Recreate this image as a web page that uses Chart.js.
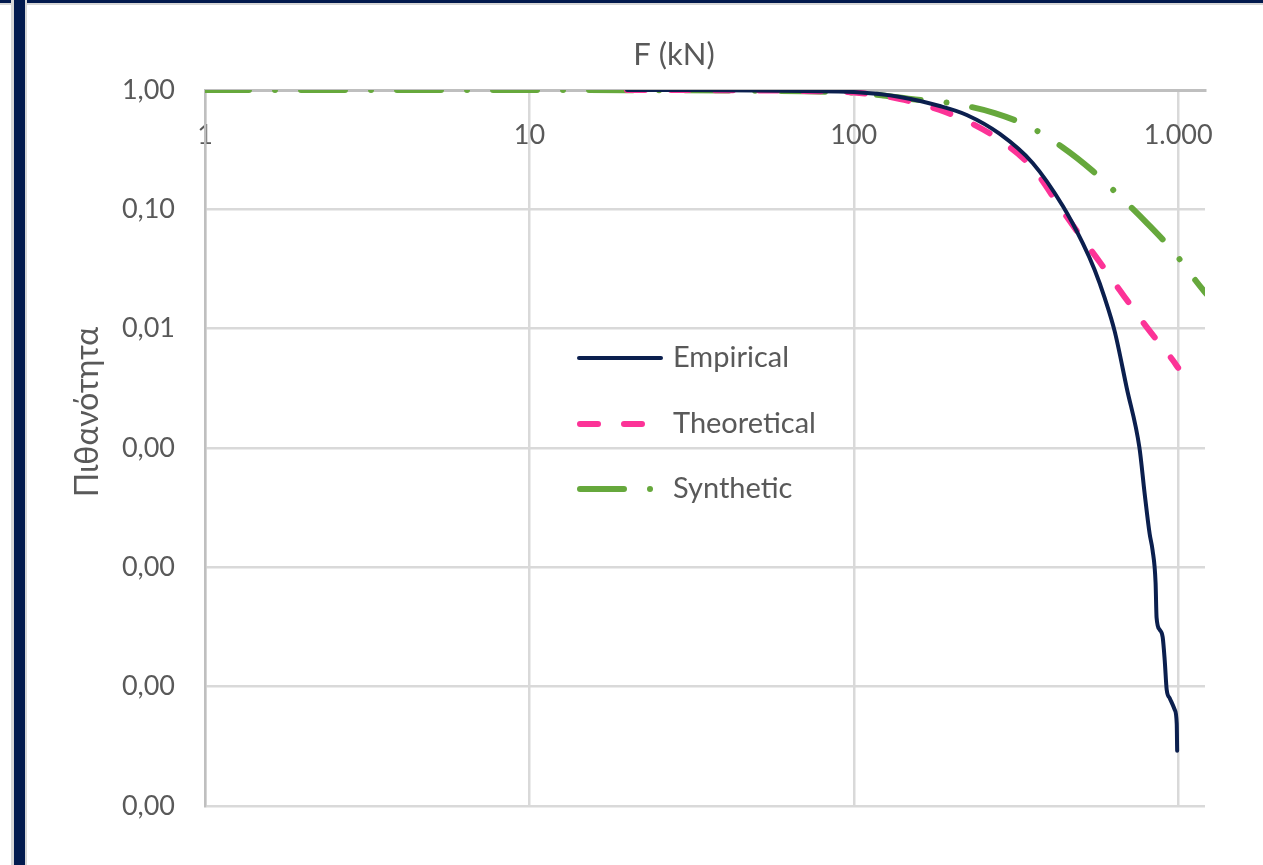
<!DOCTYPE html>
<html>
<head>
<meta charset="utf-8">
<script src="https://cdn.jsdelivr.net/npm/chart.js@4.4.0/dist/chart.umd.min.js"></script>
<style>
    html, body { margin: 0; padding: 0; background: #fff; }
    body { width: 1263px; height: 865px; position: relative; overflow: hidden; }
    .edge { position: absolute; }
    #topBar { left: 0; top: 0; width: 1263px; height: 3px; background: #021a4e; }
    #topLine { left: 0; top: 3px; width: 1263px; height: 2px; background: #d6d6d6; }
    #sideLine { left: 11px; top: 0; width: 16px; height: 865px; background: #d6d6d6; }
    #sideBar { left: 14px; top: 0; width: 11px; height: 865px; background: #021a4e; }
    #wrap { position: absolute; left: 27px; top: 6px; width: 1236px; height: 859px; }
</style>
</head>
<body>
<div class="edge" id="topBar"></div>
<div class="edge" id="topLine"></div>
<div class="edge" id="sideLine"></div>
<div class="edge" id="sideBar"></div>
<div id="wrap"><canvas id="chart" width="1236" height="859"></canvas></div>
<script>
//force in kN and exceedance probability for each curve
const empiricalF = [20, 30, 50, 70, 100, 139, 184, 223, 282, 356, 441, 508, 553, 594, 638, 694, 760, 788, 817, 834, 852, 858, 877, 896, 909, 922, 942, 976, 990, 993];
const empiricalP = [1, 0.998, 0.99, 0.98, 0.96, 0.874, 0.734, 0.617, 0.428, 0.2445, 0.1066, 0.052, 0.031, 0.018, 0.0094, 0.0032, 0.001, 0.00042, 0.00019, 0.000139, 0.000074, 0.000038, 0.00003, 0.000026, 0.0000167, 0.0000094, 0.000008, 0.0000064, 0.0000049, 0.0000029];

const theoreticalF = [20, 30, 50, 70, 100, 139, 184, 223, 282, 356, 437, 497, 573, 660, 800, 962, 1000];
const theoreticalP = [1, 0.999, 0.993, 0.98, 0.955, 0.84, 0.68, 0.55, 0.381, 0.222, 0.1, 0.061, 0.0362, 0.0211, 0.0103, 0.00546, 0.0047];

const syntheticF = [1, 10, 20, 40, 70, 100, 123, 150, 198, 272, 349, 441, 545, 660, 800, 962, 1208, 1260];
const syntheticP = [1, 0.999, 0.997, 0.99, 0.975, 0.95, 0.9, 0.84, 0.778, 0.64, 0.49, 0.33, 0.21, 0.129, 0.077, 0.045, 0.0203, 0.018];

const xTicks = [1, 10, 100, 1000];
const yTicks = [1, 0.1, 0.01, 0.001, 0.0001, 0.00001, 0.000001];

const FONT = 'Lato, "Noto Sans", sans-serif';
const TEXT = '#595959';

function points(xs, ys) {
    return xs.map((x, i) => ({ x: x, y: ys[i] }));
}

function keepTicks(list) {
    return (scale) => {
        scale.ticks = scale.ticks.filter(t => list.some(v => Math.abs(Math.log10(t.value) - Math.log10(v)) < 1e-6));
    };
}

//legend sits inside the plot, so draw it by hand
const innerLegend = {
    id: 'innerLegend',
    afterDatasetsDraw(chart) {
        const ctx = chart.ctx;
        const a = chart.chartArea;
        const x0 = a.left + 372, x1 = a.left + 458, tx = a.left + 468;
        const rows = [268, 334, 399];
        chart.data.datasets.forEach((ds, i) => {
            const y = a.top + rows[i];
            ctx.save();
            ctx.strokeStyle = ds.borderColor;
            ctx.lineWidth = ds.borderWidth;
            ctx.lineCap = 'round';
            ctx.setLineDash(ds.borderDash || []);
            ctx.beginPath();
            ctx.moveTo(x0 + ds.borderWidth / 2, y);
            ctx.lineTo(x1 - ds.borderWidth / 2, y);
            ctx.stroke();
            ctx.restore();
            ctx.save();
            ctx.fillStyle = TEXT;
            ctx.font = '29px ' + FONT;
            ctx.textBaseline = 'middle';
            ctx.fillText(ds.label, tx, y);
            ctx.restore();
        });
    }
};

//axis titles: F on top, probability rotated on the left
const axisTitles = {
    id: 'axisTitles',
    afterDraw(chart) {
        const ctx = chart.ctx;
        const a = chart.chartArea;
        ctx.save();
        ctx.fillStyle = TEXT;
        ctx.font = '31px ' + FONT;
        ctx.textAlign = 'center';
        ctx.textBaseline = 'middle';
        ctx.fillText('F (kN)', a.left + 469, a.top - 35);
        ctx.font = '32px ' + FONT;
        ctx.translate(a.left - 117, a.top + 322);
        ctx.rotate(-Math.PI / 2);
        ctx.fillText('Πιθανότητα', 0, 0);
        ctx.restore();
    }
};

new Chart(document.getElementById('chart'), {
    type: 'line',
    data: {
        datasets: [{
            label: 'Empirical',
            data: points(empiricalF, empiricalP),
            borderColor: '#0b1f4e',
            borderWidth: 4
        }, {
            label: 'Theoretical',
            data: points(theoreticalF, theoreticalP),
            borderColor: '#fc3397',
            borderWidth: 6,
            borderDash: [18, 26]
        }, {
            label: 'Synthetic',
            data: points(syntheticF, syntheticP),
            borderColor: '#66a83c',
            borderWidth: 6,
            borderDash: [44, 26, 0.01, 26]
        }]
    },
    options: {
        responsive: false,
        animation: false,
        clip: 0,
        layout: { padding: { left: 28, right: 58, top: 84, bottom: 59 } },
        elements: {
            point: { radius: 0 },
            line: { cubicInterpolationMode: 'monotone', borderCapStyle: 'round', borderJoinStyle: 'round', fill: false }
        },
        plugins: { legend: { display: false }, tooltip: { enabled: false } },
        scales: {
            x: {
                type: 'logarithmic',
                position: { y: 1 },
                min: 1,
                max: 1210,
                afterBuildTicks: keepTicks(xTicks),
                grid: { color: '#d9d9d9', lineWidth: 2.5, drawTicks: false },
                border: { display: true, color: '#bfbfbf', width: 3 },
                ticks: {
                    padding: 29,
                    maxRotation: 0,
                    autoSkip: false,
                    color: TEXT,
                    font: { family: FONT, size: 27 },
                    callback: v => Math.round(v).toString().replace(/\B(?=(\d{3})+(?!\d))/g, '.')
                }
            },
            y: {
                type: 'logarithmic',
                position: 'left',
                min: 0.000001,
                max: 1,
                afterBuildTicks: keepTicks(yTicks),
                afterFit: s => { s.width = 150; },
                grid: { color: '#d9d9d9', lineWidth: 2.5, drawTicks: false },
                border: { display: true, color: '#bfbfbf', width: 2.5 },
                ticks: {
                    padding: 30,
                    autoSkip: false,
                    color: TEXT,
                    font: { family: FONT, size: 27 },
                    callback: v => v.toFixed(2).replace('.', ',')
                }
            }
        }
    },
    plugins: [innerLegend, axisTitles]
});
</script>
</body>
</html>
